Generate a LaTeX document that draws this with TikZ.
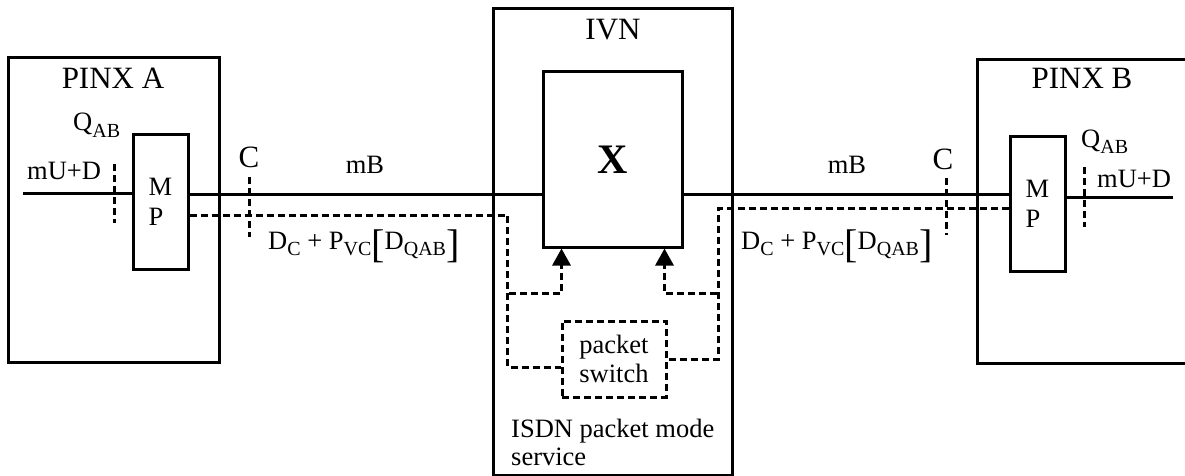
\documentclass[tikz,border=0pt]{standalone}
\usepackage{fontspec}
\setmainfont{Liberation Serif}
\usetikzlibrary{arrows.meta, positioning, calc}

\newcommand{\lowsub}[1]{\raisebox{-6pt}{\fontsize{20}{20}\selectfont #1}}
\newcommand{\bigbrk}[1]{\raisebox{-8pt}{\fontsize{40}{40}\selectfont #1}}

\tikzset{
  box/.style={draw, line width=3pt, inner sep=0pt},
  link/.style={line width=3pt},
  dline/.style={line width=3pt, dash pattern=on 7pt off 4pt},
  lbl/.style={font=\fontsize{26.5}{30}\selectfont, inner sep=0pt},
  title/.style={font=\fontsize{31}{33}\selectfont, inner sep=0pt, anchor=base},
  tip/.style={-{Triangle[width=18pt,length=17pt]}}
}

\begin{document}
\begin{tikzpicture}[x=1pt, y=-1pt]
    \useasboundingbox (0,0) rectangle (1185,476);
    \clip (0,0) rectangle (1185,476);

    % PINX A
    \node[box, minimum width=211pt, minimum height=304pt] (pinxA) at (113.5,210) {};
    \node[title] (pinxAlbl) at (113,89) {PINX A};
    \node[box, lbl, align=left, minimum width=55pt, minimum height=135pt,
          font=\fontsize{26.5}{30}\selectfont] (mpA) at (160.5,201.5) {M\\P};
    \node[lbl, anchor=base west] (qA) at (73,131) {Q\lowsub{AB}};
    \node[lbl, anchor=base west] (udA) at (27,179) {mU+D};

    % IVN
    \node[box, minimum width=239pt, minimum height=466pt] (ivn) at (612.5,242) {};
    \node[title] (ivnlbl) at (613,40) {IVN};
    \node[box, minimum width=139pt, minimum height=175pt,
          font=\fontsize{42}{42}\selectfont\bfseries] (xsw) at (612.5,159.5) {X};
    \node[box, dline, lbl, align=center, minimum width=104pt, minimum height=76pt,
          font=\fontsize{26.5}{29}\selectfont] (pswitch) at (614,359) {packet\\switch};
    \node[lbl, anchor=base west] (isdn) at (511,437) {ISDN packet mode};
    \node[lbl, anchor=base west] (isdnsvc) at (511,465) {service};

    % PINX B
    \node[box, minimum width=223pt, minimum height=303pt] (pinxB) at (1088.5,211.5) {};
    \node[title] (pinxBlbl) at (1082,89) {PINX B};
    \node[box, lbl, align=left, minimum width=55pt, minimum height=135pt,
          font=\fontsize{26.5}{30}\selectfont] (mpB) at (1037.5,203.5) {M\\P};
    \node[lbl, anchor=base west] (qB) at (1081,147) {Q\lowsub{AB}};
    \node[lbl, anchor=base west] (udB) at (1097,187) {mU+D};

    % user side lines
    \coordinate (uA) at (23,193);
    \coordinate (uB) at (1173,197);
    \draw[link] (uA) -- (uA -| mpA.west);
    \draw[link] (uB) -- (uB -| mpB.east);
    \draw[dline] (114,164) -- (114,223);
    \draw[dline] (1084,167) -- (1084,227);

    % mB lines
    \coordinate (mA) at ($(mpA.east)+(0,-7.5)$);
    \coordinate (mB) at ($(mpB.west)+(0,-9.5)$);
    \draw[link] (mA) -- (mA -| xsw.west);
    \draw[link] (mB) -- (mB -| xsw.east);
    \node[lbl, anchor=base] (mbA) at (365,173) {mB};
    \node[lbl, anchor=base] (mbB) at (847,173) {mB};

    % C reference points
    \draw[dline] (249,177) -- (249,237);
    \draw[dline] (946,178) -- (946,235);
    \node[title] (cA) at (249,167) {C};
    \node[title] (cB) at (943,169) {C};

    % D channel paths
    \draw[dline] ($(mpA.east)+(0,13.5)$) -| ($(pswitch.west)+(-53,8)$) -- ($(pswitch.west)+(0,8)$);
    \draw[dline] ($(mpB.west)+(0,4.5)$) -| ($(pswitch.east)+(51,0)$) -- (pswitch.east);
    \coordinate (brA) at (509,293);
    \coordinate (brB) at (717,293);
    \draw[dline, tip] (brA) -| ($(xsw.south west)+(20,0)$);
    \draw[dline, tip] (brB) -| ($(xsw.south east)+(-19,0)$);
    \node[lbl, anchor=base west] (dA) at (268,249)
        {D\lowsub{C} + P\lowsub{VC}\bigbrk{[}D\lowsub{QAB}\bigbrk{]}};
    \node[lbl, anchor=base west] (dB) at (741,249)
        {D\lowsub{C} + P\lowsub{VC}\bigbrk{[}D\lowsub{QAB}\bigbrk{]}};
\end{tikzpicture}
\end{document}
